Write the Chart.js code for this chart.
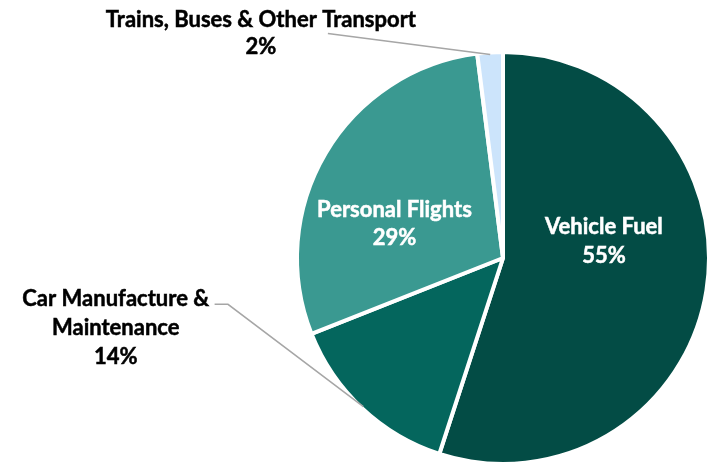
<!DOCTYPE html>
<html>
<head>
<meta charset="utf-8">
<script src="https://cdn.jsdelivr.net/npm/chart.js@4"></script>
<style>
  html, body { margin: 0; padding: 0; background: #ffffff; }
  #wrap { width: 708px; height: 463px; }
</style>
</head>
<body>
<div id="wrap"><canvas id="c" width="708" height="463"></canvas></div>
<script>
// ---- data ----
const categories = ['Vehicle Fuel', 'Car Manufacture & Maintenance', 'Personal Flights', 'Trains, Buses & Other Transport'];
const shares = [55, 14, 29, 2];
const labelNameLines = [['Vehicle Fuel'], ['Car Manufacture &', 'Maintenance'], ['Personal Flights'], ['Trains, Buses & Other Transport']];

// ---- style ----
const sliceColors = ['#034C45', '#04665D', '#3A9991', '#CCE4FB'];
const labelColors = ['#ffffff', '#000000', '#ffffff', '#000000'];
// label placement relative to pie centre, in units of radius (dx centre of text, dy first baseline)
const labelPlace = [
  { dx: 0.49, dy: -0.115, lh: 29 },
  { dx: -1.88, dy: 0.235, lh: 28.6, leader: [[-1.40, 0.225], [-1.335, 0.225]] },
  { dx: -0.527, dy: -0.2, lh: 28 },
  { dx: -1.175, dy: -1.12, lh: 26.5, leader: [[-0.85, -1.09]] }
];
const FONT = 'bold 22px Lato';

const labelPlugin = {
  id: 'sliceLabels',
  afterDatasetsDraw(chart) {
    const ctx = chart.ctx;
    const meta = chart.getDatasetMeta(0);
    ctx.save();
    meta.data.forEach((arc, i) => {
      const p = labelPlace[i];
      const cx = arc.x, cy = arc.y, r = arc.outerRadius;
      if (p.leader) {
        const mid = (arc.startAngle + arc.endAngle) / 2;
        const ex = cx + Math.cos(mid) * (r - 2);
        const ey = cy + Math.sin(mid) * (r - 2);
        ctx.beginPath();
        ctx.strokeStyle = '#A6A6A6';
        ctx.lineWidth = 1.5;
        p.leader.forEach((pt, k) => {
          const x = cx + pt[0] * r, y = cy + pt[1] * r;
          if (k === 0) ctx.moveTo(x, y); else ctx.lineTo(x, y);
        });
        ctx.lineTo(ex, ey);
        ctx.stroke();
      }
      const lines = labelNameLines[i].concat([shares[i] + '%']);
      ctx.font = FONT;
      ctx.fillStyle = labelColors[i];
      ctx.strokeStyle = labelColors[i];
      ctx.lineWidth = 0.5;
      ctx.textAlign = 'center';
      ctx.textBaseline = 'alphabetic';
      const x = cx + p.dx * r;
      let y = cy + p.dy * r;
      lines.forEach((t, k) => {
        ctx.fillText(t, x, y + k * p.lh);
        ctx.strokeText(t, x, y + k * p.lh);
      });
    });
    ctx.restore();
  }
};

new Chart(document.getElementById('c'), {
  type: 'pie',
  data: {
    labels: categories,
    datasets: [{
      data: shares,
      backgroundColor: sliceColors,
      borderColor: '#ffffff',
      borderWidth: 4,
      hoverOffset: 0,
      offset: 0,
      radius: 206
    }]
  },
  options: {
    responsive: false,
    animation: false,
    layout: { padding: { left: 298, top: 53, right: 0, bottom: 0 } },
    plugins: {
      legend: { display: false },
      tooltip: { enabled: false }
    }
  },
  plugins: [labelPlugin]
});
</script>
</body>
</html>
